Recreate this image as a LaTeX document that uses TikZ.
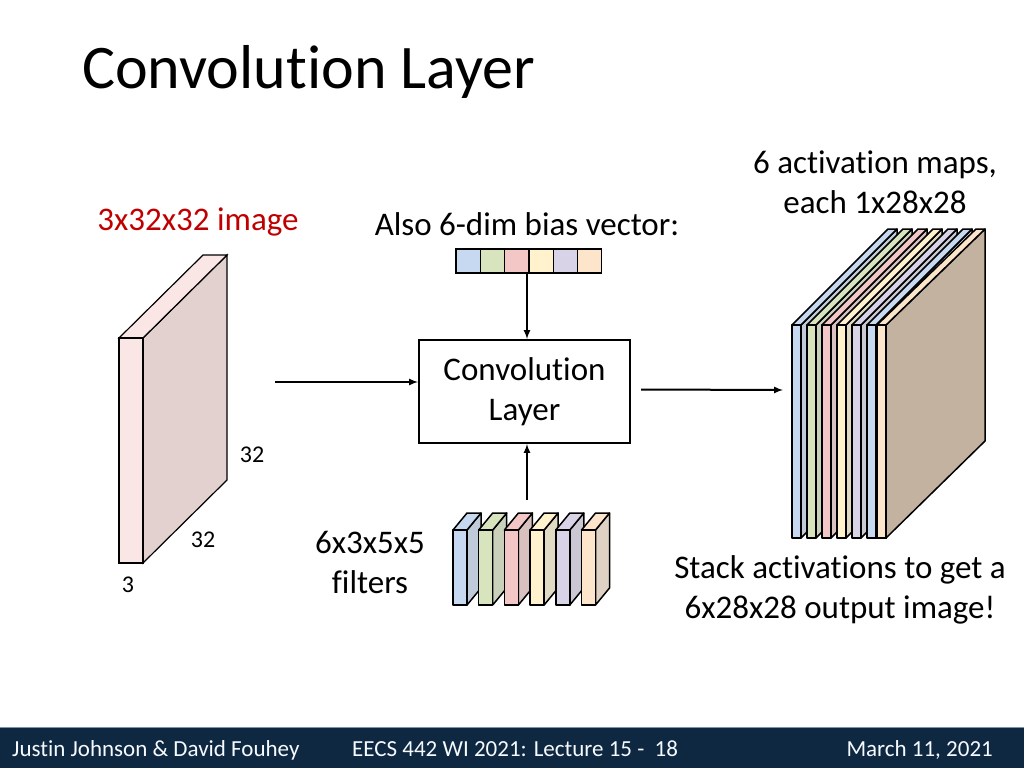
\documentclass[tikz,border=0pt]{standalone}
\usepackage{fontspec}
\setmainfont[RawFeature={-liga;-dlig}]{Carlito}
\usetikzlibrary{positioning,calc}
\definecolor{cblue}{HTML}{C6D9F1}
\definecolor{cgreen}{HTML}{D7E4BD}
\definecolor{cpink}{HTML}{F2C7C6}
\definecolor{cyellow}{HTML}{FFF2CC}
\definecolor{clav}{HTML}{D9D3E8}
\definecolor{cpeach}{HTML}{FDE5CC}
\definecolor{footbg}{HTML}{0E2841}
\definecolor{imgred}{HTML}{C00000}
% one box: x, y (front top-left), width, height, depth dx, depth dy, colour
\newcommand{\drawslab}[7]{%
    \filldraw[fill=#7!70!gray!80, draw=black, line width=1.5pt, line join=round]
        (#1+#3,#2) -- ++(#5,-#6) -- ++(0,#4) -- ++(-#5,#6) -- cycle;
    \filldraw[fill=#7, draw=black, line width=1.5pt, line join=round]
        (#1,#2) -- ++(#5,-#6) -- ++(#3,0) -- ++(-#5,#6) -- cycle;
    \filldraw[fill=#7, draw=black, line width=1.5pt, line join=round]
        (#1,#2) rectangle ++(#3,#4);
}
\tikzset{
    txt/.style={font=\fontsize{33}{40}\selectfont, align=center, inner sep=0pt},
    small/.style={font=\fontsize{24}{28}\selectfont, inner sep=0pt},
    foot/.style={font=\fontsize{23}{26}\selectfont, text=white!85!cblue, inner sep=0pt},
    arr/.style={-latex, line width=2pt},
    cell/.style={draw=black, line width=1.2pt, minimum width=24.3pt, minimum height=24pt, inner sep=0pt}
}
\begin{document}
\begin{tikzpicture}[x=1pt,y=-1pt]
    \useasboundingbox (0,0) rectangle (1024,768);
    % Title and footer
    \node[anchor=base west, font=\fontsize{62}{68}\selectfont, inner sep=0pt] (title) at (82,88) {Convolution Layer};
    \fill[footbg] (0,727) rectangle (1024,768);
    \draw[cblue!60!footbg, line width=1pt] (0,727) -- (1024,727);
    \node[foot, anchor=base west] (fleft) at (12,756) {Justin Johnson \& David Fouhey};
    \node[foot, anchor=base west] (fmid) at (352,756) {EECS 442 WI 2021: Lecture 15 -~~18};
    \node[foot, anchor=base east] (fright) at (993,756) {March 11, 2021};

    % Input image 3x32x32
    \filldraw[fill=cpink!70!gray!60, draw=black, line width=1.2pt] (143,338) -- (227,255) -- (227,480) -- (143,563) -- cycle;
    \filldraw[fill=cpink!45, draw=black, line width=1.2pt] (119,338) -- (203,255) -- (227,255) -- (143,338) -- cycle;
    \filldraw[fill=cpink!45, draw=black, line width=1.2pt] (119,338) rectangle (143,563);
    \node[txt, text=imgred] (inlabel) at (198,222) {3x32x32 image};
    \node[small] (dimh) at (252,455) {32};
    \node[small] (dimw) at (203,540) {32};
    \node[small] (dimc) at (128,585) {3};

    % Bias vector
    \node[txt] (biaslabel) at (527,224) {Also 6-dim bias vector:};
    \foreach \c [count=\i from 0] in {cblue,cgreen,cpink,cyellow,clav,cpeach}
        \node[cell, fill=\c] (b\i) at (468.2+24.3*\i,261) {};
    \coordinate (bias) at (527,273);

    % Convolution layer
    \node[draw, line width=2pt, minimum width=211pt, minimum height=103pt, txt] (conv) at (524.5,391.5) {Convolution\\Layer};

    % Filters
    \foreach \c [count=\i from 0] in {cblue,cgreen,cpink,cyellow,clav,cpeach}
        \drawslab{453+25.7*\i}{530}{14}{75}{14}{17}{\c};
    \coordinate (filt) at (527,500);
    \node[txt] (filtlabel) at (370,562) {6x3x5x5\\filters};

    % Output activation maps
    \foreach \c [count=\i from 0] in {cblue,cgreen,cpink,cyellow,clav,cblue}
        \drawslab{792+15*\i}{325}{9}{213}{96}{96}{\c};
    \filldraw[fill=brown!45!gray!60, draw=black, line width=1.5pt, line join=round] (886,325) -- (985,229) -- (985,441) -- (886,538) -- cycle;
    \filldraw[fill=cpeach, draw=black, line width=1.5pt, line join=round] (877,325) -- (976,229) -- (985,229) -- (886,325) -- cycle;
    \filldraw[fill=cpeach, draw=black, line width=1.5pt] (877,325) rectangle (886,538);
    \node[txt] (outlabel) at (875,182) {6 activation maps,\\each 1x28x28};
    \node[txt] (stacklabel) at (840,590) {Stack activations to get a\\6x28x28 output image!};

    % Connectors
    \coordinate (inend) at (275,382);
    \coordinate (outend) at (783,390);
    \draw[arr] (bias) -- (bias |- conv.north);
    \draw[arr] (filt) -- (filt |- conv.south);
    \draw[arr] (inend) -- (conv.west |- inend);
    \draw[arr] ($(conv.east)+(10,-2)$) -- (outend);
\end{tikzpicture}
\end{document}
